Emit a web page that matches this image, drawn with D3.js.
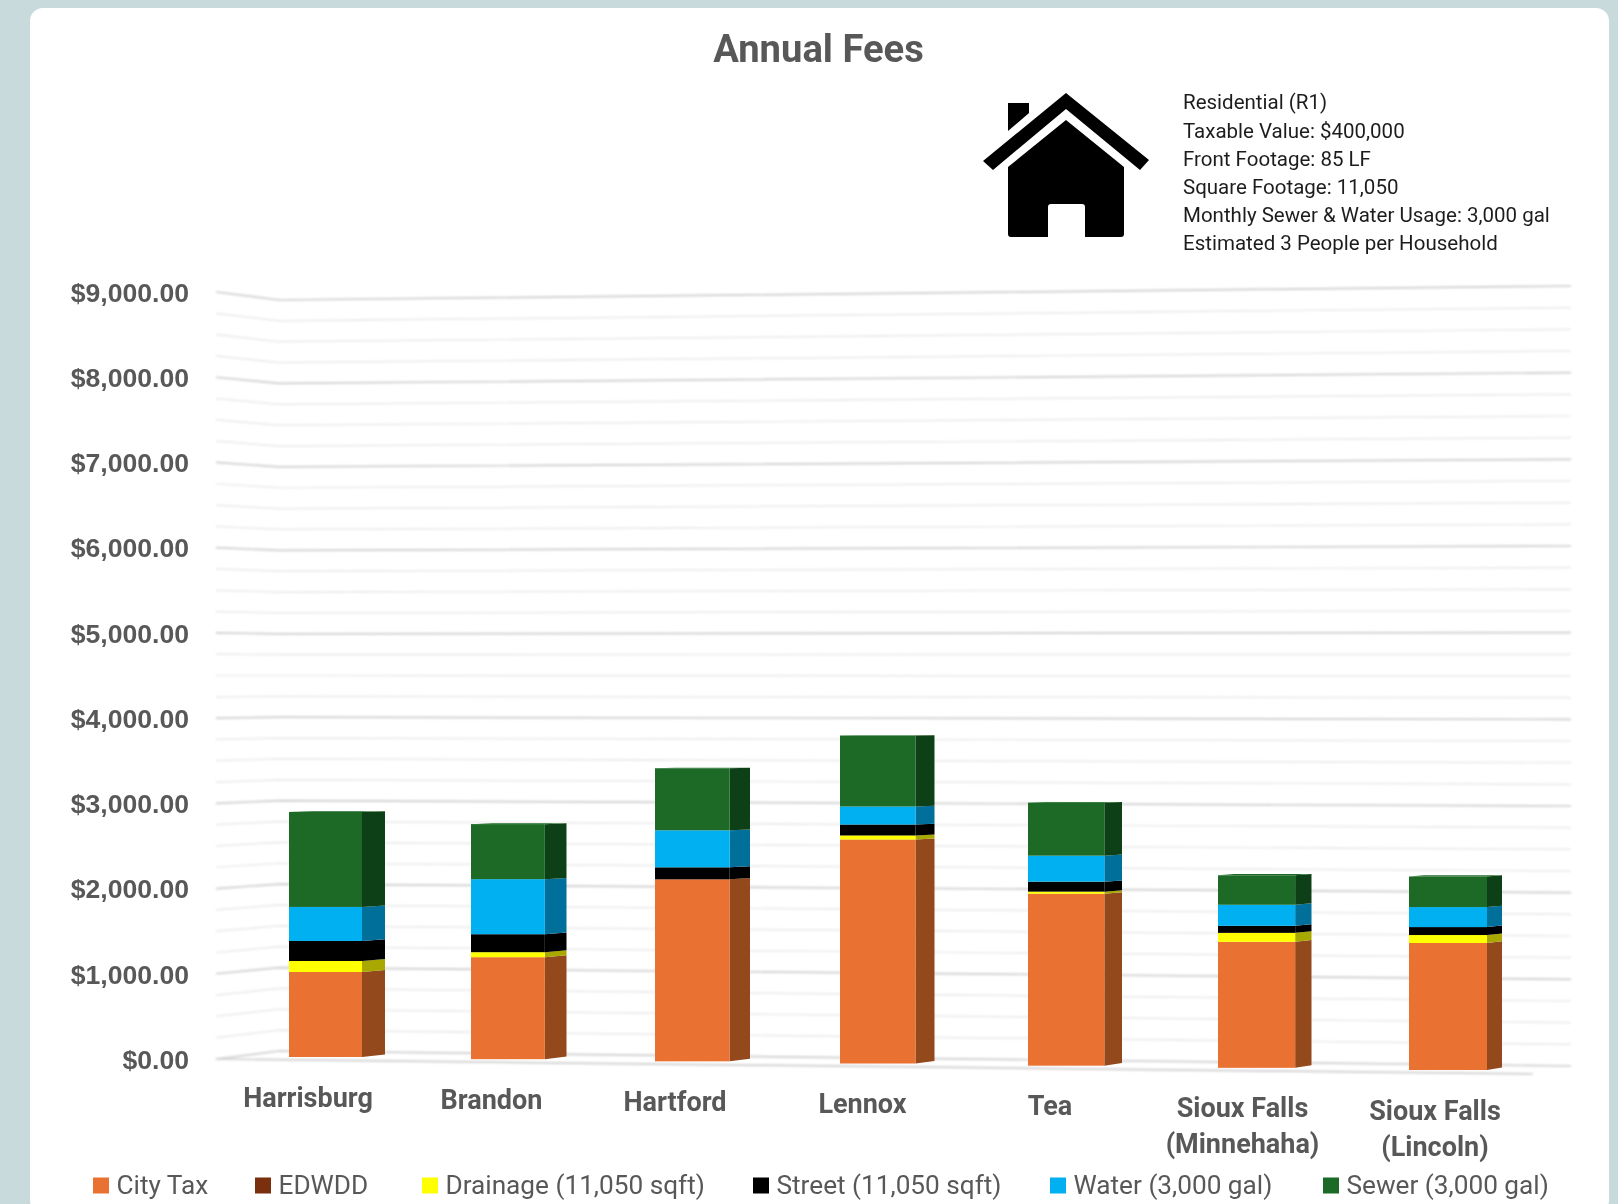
<!DOCTYPE html>
<html><head><meta charset="utf-8">
<script src="https://cdnjs.cloudflare.com/ajax/libs/d3/7.8.5/d3.min.js"></script>
<style>html,body{margin:0;padding:0;background:#C9DADD}svg{display:block}</style>
</head><body><svg id="c" width="1618" height="1204"></svg>
<script>
const categories = [["Harrisburg"],["Brandon"],["Hartford"],["Lennox"],["Tea"],["Sioux Falls","(Minnehaha)"],["Sioux Falls","(Lincoln)"]];
const cityTax  = [994,1186,2104,2575,1966,1432,1435];
const edwdd    = [0,0,0,0,0,0,0];
const drainage = [129,58,0,46,23,102,90];
const street   = [234,209,139,126,114,80,90];
const water    = [398,640,428,207,297,239,226];
const sewer    = [1111,640,717,816,606,335,345];
const seriesNames = ["City Tax","EDWDD","Drainage (11,050 sqft)","Street (11,050 sqft)","Water (3,000 gal)","Sewer (3,000 gal)"];
const seriesValues = [cityTax,edwdd,drainage,street,water,sewer];
const frontColors = ["#E97132","#7A2F0D","#FFFF00","#000000","#00B0F0","#1B6B26"];
const sideColors  = ["#93481C","#4A1C08","#A8A800","#000000","#006F9B","#0F4014"];
const legendSwatchX = [93,255,422,753,1050,1323];
const yTicks = d3.range(0,9001,1000);
const gridValues = d3.range(0,9001,250);
const infoLines = ["Residential (R1)","Taxable Value: $400,000","Front Footage: 85 LF","Square Footage: 11,050","Monthly Sewer & Water Usage: 3,000 gal","Estimated 3 People per Household"];

const ink = "#595959";
const svg = d3.select("#c");
const defs = svg.append("defs");
defs.append("filter").attr("id","soft").attr("filterUnits","userSpaceOnUse").attr("x",0).attr("y",0).attr("width",1618).attr("height",1204)
  .append("feGaussianBlur").attr("stdDeviation",0.6);
defs.append("filter").attr("id","softLine").attr("filterUnits","userSpaceOnUse").attr("x",0).attr("y",0).attr("width",1618).attr("height",1204)
  .append("feGaussianBlur").attr("stdDeviation",0.8);
defs.append("filter").attr("id","softText").append("feGaussianBlur").attr("stdDeviation",0.35);

svg.append("rect").attr("width",1618).attr("height",1204).attr("fill","#C9DADD");
svg.append("rect").attr("x",30).attr("y",8).attr("width",1579).attr("height",1205).attr("rx",13).attr("fill","#fff");

// perspective walls: value -> y at three x stations of the chart box
const yLeft  = d3.scaleLinear().domain([0,9000]).range([1059,292]);
const yBack  = d3.scaleLinear().domain([0,9000]).range([1051,300]);
const yRight = d3.scaleLinear().domain([0,9000]).range([1066,286]);
const xLeft=216, xBack=279, xRight=1571, xFloorEnd=1533, yFloorEnd=1074;

const grid = svg.append("g").attr("fill","none").attr("filter","url(#softLine)");
gridValues.forEach(v=>{
  const major = v%1000===0;
  grid.append("polyline")
    .attr("points",[[xLeft,yLeft(v)],[xBack,yBack(v)],[xRight,yRight(v)]].join(" "))
    .attr("stroke",major?"#cdcdcd":"#ebebeb").attr("stroke-width",1.7);
});
grid.append("line").attr("x1",xLeft).attr("y1",yLeft(0)).attr("x2",xFloorEnd).attr("y2",yFloorEnd)
  .attr("stroke","#cdcdcd").attr("stroke-width",1.7);

// bars
const idx = [0,6];
const xFront = d3.scaleLinear().domain(d3.range(7)).range([289,471,655,840,1028,1218,1409]);
const wFront = d3.scaleLinear().domain(idx).range([73,78]);
const wSide  = d3.scaleLinear().domain(idx).range([23,15]);
const base   = d3.scaleLinear().domain(idx).range([1057,1070]);
const pxPer  = d3.scaleLinear().domain(idx).range([0.0855,0.0885]);
const rise   = d3.scaleLinear().domain([0,3000]).range([2.6,0.7]);
const bars = svg.append("g").attr("filter","url(#soft)");
categories.forEach((c,i)=>{
  const g = bars.append("g");
  const x0=xFront(i), x1=x0+wFront(i), x2=x1+wSide(i);
  const yAt = v=>base(i)-pxPer(i)*v;
  let cum=0, lastColor=null;
  seriesValues.forEach((s,k)=>{
    const v=s[i]; if(!v) return;
    const a=cum, b=cum+v; cum=b;
    g.append("polygon").attr("fill",sideColors[k])
      .attr("points",[[x1,yAt(a)],[x2,yAt(a)-rise(a)],[x2,yAt(b)-rise(b)],[x1,yAt(b)]].join(" "));
    g.append("rect").attr("fill",frontColors[k]).attr("x",x0).attr("y",yAt(b)).attr("width",x1-x0).attr("height",yAt(a)-yAt(b));
    lastColor=frontColors[k];
  });
  g.append("polygon").attr("fill",lastColor)
    .attr("points",[[x0,yAt(cum)],[x0+wSide(i),yAt(cum)-rise(cum)],[x2,yAt(cum)-rise(cum)],[x1,yAt(cum)]].join(" "));
});

// y axis labels
const axis = d3.axisLeft(yLeft).tickValues(yTicks).tickSize(0).tickPadding(0).tickFormat(d3.format("$,.2f"));
const ax = svg.append("g").attr("transform","translate(189,0)").call(axis);
ax.select(".domain").remove();
ax.selectAll("text").attr("font-family","'Liberation Sans'").attr("font-weight",700).attr("font-size",26.6).attr("fill",ink).attr("dy","0.35em").attr("x",0).attr("text-anchor","end").attr("filter","url(#softText)");

// category labels
const catX = d3.scaleLinear().domain([0,2,4,6]).range([308,675,1050,1435]);
const catY = d3.scaleLinear().domain(idx).range([1107,1119.5]);
categories.forEach((c,i)=>{
  c.forEach((t,j)=>{
    svg.append("text").attr("x",catX(i)).attr("y",catY(i)+j*36).attr("text-anchor","middle")
      .attr("font-family","Roboto").attr("font-weight",700).attr("font-size",27).attr("fill",ink).attr("filter","url(#softText)").text(t);
  });
});

// title
svg.append("text").attr("x",818.5).attr("y",62).attr("text-anchor","middle").attr("font-family","Roboto").attr("font-weight",700)
  .attr("font-size",38.2).attr("fill",ink).attr("filter","url(#softText)").text("Annual Fees");

// info
infoLines.forEach((t,i)=>{
  svg.append("text").attr("x",1183).attr("y",109.4+i*28.2).attr("font-family","Roboto").attr("font-size",20.5).attr("fill","#1e1e1e").attr("filter","url(#softText)").text(t);
});

// house icon
const house = svg.append("g").attr("fill","#000");
house.append("path").attr("d","M1066 93 L1149 160 L1140 170 L1066 109 L993 170 L983 161 Z");
house.append("path").attr("d","M1008 103 H1029 V113 L1008 131 Z");
house.append("path").attr("d","M1066 120 L1124 167 V234 Q1124 237 1121 237 H1085 V207 Q1085 204 1082 204 H1051 Q1048 204 1048 207 V237 H1011 Q1008 237 1008 234 V167 Z");

// legend
seriesNames.forEach((n,k)=>{
  svg.append("rect").attr("x",legendSwatchX[k]).attr("y",1177.5).attr("width",16).attr("height",16).attr("fill",frontColors[k]);
  svg.append("text").attr("x",legendSwatchX[k]+23.5).attr("y",1194).attr("font-family","Roboto").attr("font-size",26.2).attr("fill",ink).attr("filter","url(#softText)").text(n);
});
</script></body></html>
